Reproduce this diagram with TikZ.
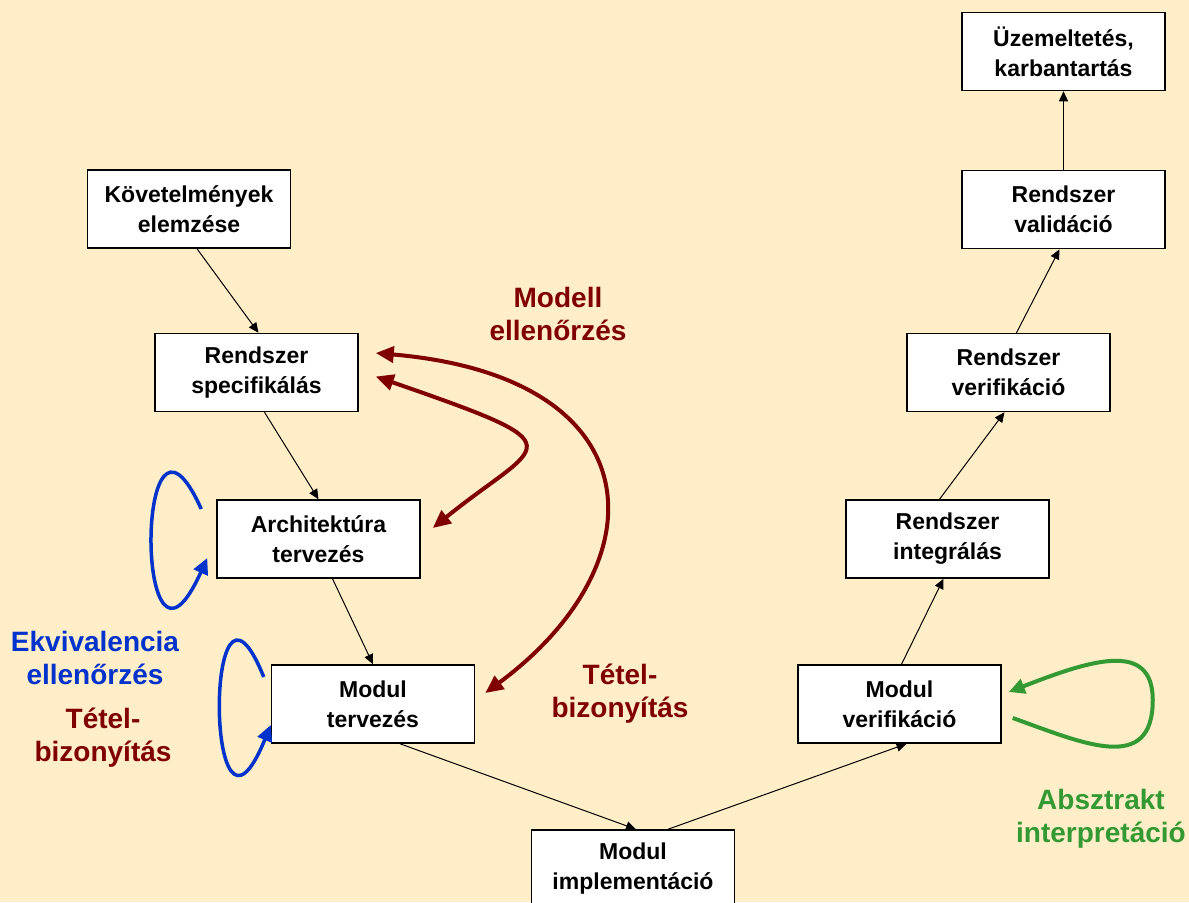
\documentclass[tikz,border=0pt]{standalone}
\usepackage{fontspec}
\setmainfont{Liberation Sans}
\usepackage{tikz}
\usetikzlibrary{positioning}
\usetikzlibrary{calc}
\usetikzlibrary{arrows.meta}

\definecolor{bgyellow}{RGB}{255,238,200}
\definecolor{darkred}{RGB}{128,0,0}
\definecolor{loopblue}{RGB}{0,51,204}
\definecolor{loopgreen}{RGB}{51,153,51}

\begin{document}
\begin{tikzpicture}[x=0.5pt, y=-0.5pt,
        phase/.style={rectangle, draw=black, fill=white, line width=0.75pt, inner sep=0pt, minimum width=101.5pt, minimum height=39pt, align=center, font=\bfseries\fontsize{11.5}{15}\selectfont},
        note/.style={align=center, font=\bfseries\fontsize{14}{16.5}\selectfont},
        flow/.style={-{Triangle[length=5pt, width=4.5pt]}, line width=0.5pt},
        mcarrow/.style={{Triangle[length=9pt, width=8pt]}-{Triangle[length=9pt, width=8pt]}, darkred, line width=2pt},
        eqloop/.style={-{Triangle[length=8pt, width=7.5pt]}, loopblue, line width=1.75pt},
        ailoop/.style={-{Triangle[length=8pt, width=7.5pt]}, loopgreen, line width=2pt}
      ]
        \fill[bgyellow] (0,0) rectangle (1189,902);
        \useasboundingbox (0,0) rectangle (1189,902);

        \node[phase]  (req)     at (189, 209)      {Követelmények\\elemzése};
        \node[phase]  (spec)    at (256.5, 372.5)  {Rendszer\\specifikálás};
        \node[phase]  (arch)    at (318.5, 539)    {Architektúra\\tervezés};
        \node[phase]  (modt)    at (373, 704)      {Modul\\tervezés};
        \node[phase]  (impl)    at (633, 869)      {Modul\\implementáció};
        \node[phase]  (modv)    at (899.5, 704)    {Modul\\verifikáció};
        \node[phase]  (integ)   at (947.5, 539)    {Rendszer\\integrálás};
        \node[phase]  (sverif)  at (1008.5, 372.5) {Rendszer\\verifikáció};
        \node[phase]  (valid)   at (1063.5, 209.5) {Rendszer\\validáció};
        \node[phase]  (ops)     at (1063.5, 51.5)  {Üzemeltetés,\\karbantartás};

        \node[note, darkred]    (mc)   at (558, 314)  {Modell\\ellenőrzés};
        \node[note, darkred]    (tpr)  at (620, 694)  {Tétel-\\bizonyítás};
        \node[note, loopblue]   (eq)   at (95, 658)   {Ekvivalencia\\ellenőrzés};
        \node[note, darkred]    (tpl)  at (103, 738)  {Tétel-\\bizonyítás};
        \node[note, loopgreen]  (ai)   at (1101, 819) {Absztrakt\\interpretáció};

        \draw[flow]  ([xshift=4pt]req.south) -- ([xshift=1pt]spec.north);
        \draw[flow]  ([xshift=4pt]spec.south) -- (arch.north);
        \draw[flow]  ([xshift=7pt]arch.south) -- (modt.north);
        \draw[flow]  ([xshift=13.5pt]modt.south) -- ([xshift=1.5pt]impl.north);
        \draw[flow]  ([xshift=17.5pt]impl.north) -- ([xshift=3.5pt]modv.south);
        \draw[flow]  ([xshift=1pt]modv.north) -- ([xshift=-2pt]integ.south);
        \draw[flow]  ([xshift=-4pt]integ.north) -- ([xshift=-2pt]sverif.south);
        \draw[flow]  ([xshift=4pt]sverif.north) -- ([xshift=-2pt]valid.south);
        \draw[flow]  (valid.north) -- (ops.south);

        \draw[mcarrow]  ($(spec.east)+(17,4)$) .. controls +(208,72) and +(109,-88) .. ($(arch.east)+(12,-11)$);
        \draw[mcarrow]  ($(spec.east)+(17,-19.5)$) .. controls +(279,24) and +(177,-131) .. ($(modt.east)+(10,-11)$);

        \draw[eqloop]  ($(arch.west)+(-15,-30)$) .. controls +(-67,-149) and +(-73,162) .. ($(arch.west)+(-9,19)$);
        \draw[eqloop]  ($(modt.west)+(-7,-27)$) .. controls +(-60,-149) and +(-66,162) .. ($(modt.west)+(0,21)$);

        \coordinate (aiturn) at ($(modv.east)+(151,-4)$);
        \draw[ailoop]  ($(modv.east)+(11,14)$) .. controls +(70,25) and +(0,75) .. (aiturn) .. controls +(0,-60) and +(82,-32) .. ($(modv.east)+(7,-12)$);
      \end{tikzpicture}
\end{document}
